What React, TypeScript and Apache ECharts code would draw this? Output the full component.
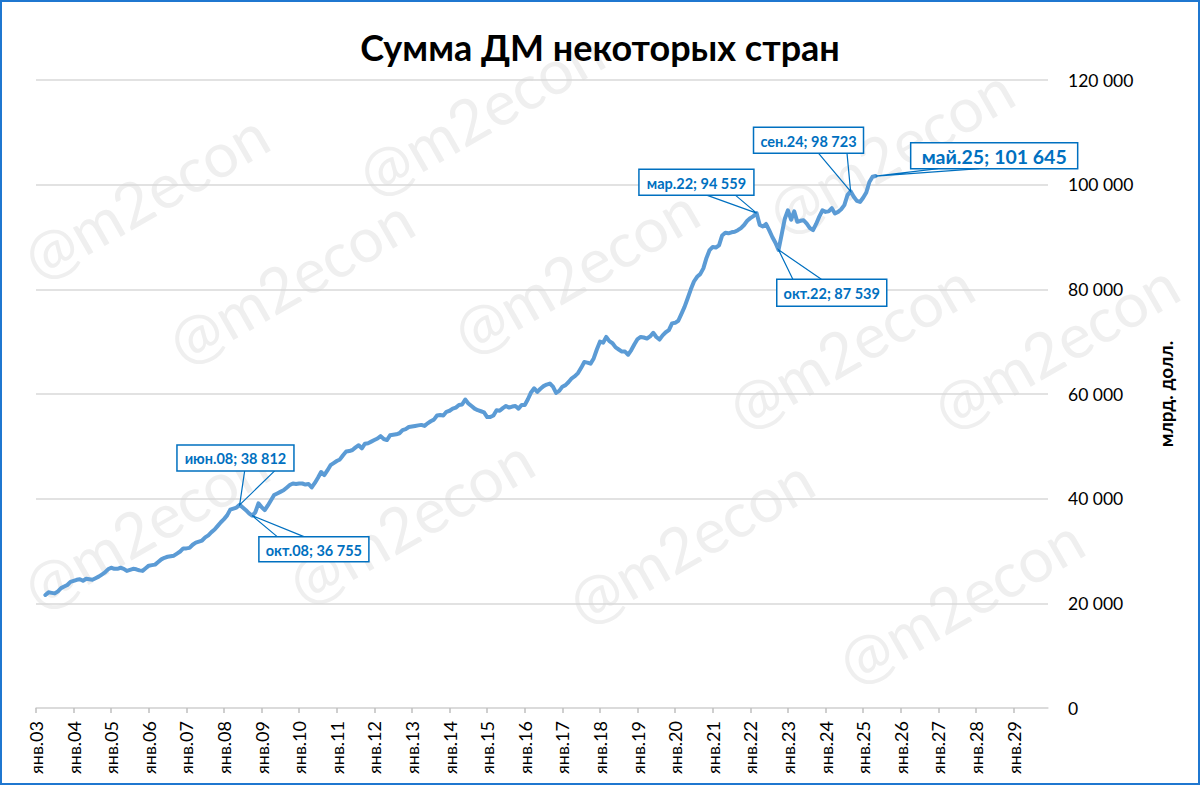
import React, { useEffect, useRef } from "react";
import * as echarts from "echarts";

// Months (Russian short names) used for category labels
const monthNames = ["янв", "фев", "мар", "апр", "май", "июн", "июл", "авг", "сен", "окт", "ноя", "дек"];
const firstYear = 2003;
const lastYear = 2029;

// Sum of monetary base, bn USD, monthly from апр.03 to май.25
const values: number[] = [
  // 2003 (from апр)
  21600, 22100, 22000, 21900, 22300, 22900, 23200, 23500, 24100,
  // 2004
  24300, 24500, 24600, 24300, 24700, 24600, 24500, 24800, 25100, 25500, 25900, 26500,
  // 2005
  26800, 26600, 26600, 26800, 26600, 26200, 26400, 26600, 26500, 26300, 26200, 26700,
  // 2006
  27200, 27300, 27400, 27900, 28400, 28700, 28900, 29000, 29100, 29500, 29900, 30500,
  // 2007
  30500, 30600, 31200, 31600, 31800, 32000, 32600, 33000, 33600, 34100, 34800, 35500,
  // 2008
  36100, 36800, 37900, 38100, 38300, 38812, 38300, 37800, 37200, 36755, 37400, 39100,
  // 2009
  38400, 37800, 38700, 39700, 40700, 41000, 41300, 41600, 42100, 42600, 42900, 42800,
  // 2010
  42900, 42900, 42700, 42800, 42150, 43000, 44000, 45100, 44500, 45400, 46400, 46800,
  // 2011
  47200, 47500, 48300, 49000, 49100, 49300, 49800, 50200, 49600, 50500, 50600, 50900,
  // 2012
  51200, 51500, 51950, 51400, 51200, 52100, 52200, 52300, 52500, 53100, 53300, 53700,
  // 2013
  53800, 53900, 54000, 54100, 53900, 54400, 54800, 55100, 55900, 56000, 55900, 56600,
  // 2014
  56800, 57200, 57400, 57900, 58000, 58950, 58200, 57700, 57200, 56900, 56700, 56500,
  // 2015
  55600, 55600, 55900, 56900, 56800, 57300, 57700, 57400, 57600, 57700, 57200, 57900,
  // 2016
  57900, 59000, 60300, 61100, 60400, 61000, 61500, 61800, 62000, 61400, 60200, 60600,
  // 2017
  61400, 61700, 62300, 63000, 63400, 64000, 65000, 66100, 66000, 65800, 66800, 68500,
  // 2018
  70000, 69800, 70900, 70100, 69700, 68900, 68500, 68100, 68100, 67500, 68400, 69500,
  // 2019
  70500, 70900, 70800, 70600, 71000, 71700, 70900, 70400, 71200, 71800, 72200, 73500,
  // 2020
  73600, 74000, 75300, 76650, 78300, 80000, 81500, 82400, 82900, 84000, 86000, 87500,
  // 2021
  88100, 88000, 88400, 90300, 90800, 90700, 90900, 91000, 91300, 91700, 92300, 93100,
  // 2022
  93600, 94000, 94559, 92300, 92000, 92500, 91300, 90000, 88900, 87539, 90500, 93500,
  // 2023
  95100, 93300, 94900, 92900, 93100, 93200, 92550, 91700, 91300, 92500, 93900, 95100,
  // 2024
  94800, 94900, 95500, 94500, 94800, 95300, 96100, 98000, 98723, 97700, 96900, 96700,
  // 2025 (to май)
  97500, 98500, 100500, 101500, 101645,
];
const firstDataMonth = "апр.03";

const yTicks = [0, 20000, 40000, 60000, 80000, 100000, 120000];

// Annotated points (month labels)
const calloutMonths = ["июн.08", "окт.08", "мар.22", "окт.22", "сен.24", "май.25"];

const FONT = "Lato, 'Open Sans', 'Noto Sans', sans-serif";
const BLUE = "#0070C0";

function buildCategories(): string[] {
  const out: string[] = [];
  for (let y = firstYear; y <= lastYear; y++) {
    for (let m = 0; m < 12; m++) {
      out.push(monthNames[m] + "." + String(y % 100).padStart(2, "0"));
    }
  }
  return out;
}

function fmt(v: number): string {
  return String(v).replace(/\B(?=(\d{3})+(?!\d))/g, " ");
}

// layout of each callout relative to its point: box offset/size, wedge base offsets, edge, font size
const calloutLayout = [
  { dx: -62.7, dy: -60, w: 117, h: 26, b1: 5, b2: 35, edge: "bottom", fs: 14.5 },
  { dx: 6.7, dy: 21, w: 110, h: 25, b1: 25, b2: 51.7, edge: "top", fs: 14.5 },
  { dx: -117.7, dy: -44, w: 115, h: 26, b1: -50, b2: -21.3, edge: "bottom", fs: 14.5 },
  { dx: -1.8, dy: 29.3, w: 110, h: 27, b1: 14.3, b2: 42.8, edge: "top", fs: 14.5 },
  { dx: -97.1, dy: -64, w: 110, h: 26, b1: -32, b2: -3.6, edge: "bottom", fs: 14.5 },
  { dx: 35, dy: -33.4, w: 167, h: 26, b1: 62.5, b2: 103.6, edge: "bottom", fs: 19.5 },
];

const watermarkCenters = [
  [480, 112], [145, 195], [290, 280], [575, 270], [890, 150], [1055, 345],
  [850, 345], [145, 525], [410, 520], [690, 540], [960, 600],
];

export default function App() {
  const ref = useRef<HTMLDivElement>(null);

  useEffect(() => {
    if (!ref.current) return;
    const chart = echarts.init(ref.current, undefined, { renderer: "svg" });
    const categories = buildCategories();
    const startIdx = categories.indexOf(firstDataMonth);
    const seriesData: (number | null)[] = categories.map((_, i) => {
      const k = i - startIdx;
      return k >= 0 && k < values.length ? values[k] : null;
    });
    const yearTick = (index: number) => index % 12 === 0;

    chart.setOption({
      animation: false,
      backgroundColor: "#ffffff",
      title: {
        text: "Сумма ДМ некоторых стран",
        left: "center",
        top: 24,
        z: 4,
        textStyle: { fontFamily: FONT, fontSize: 36, fontWeight: "bold", color: "#000" },
      },
      grid: { left: 36, right: 152, top: 80, bottom: 77, containLabel: false },
      xAxis: {
        type: "category",
        data: categories,
        boundaryGap: false,
        z: 3,
        axisLine: { show: true, lineStyle: { color: "#d9d9d9", width: 1.5 } },
        axisTick: { show: true, interval: yearTick, length: 5, lineStyle: { color: "#bfbfbf", width: 1.5 } },
        axisLabel: {
          interval: yearTick,
          rotate: 90,
          margin: 13,
          fontFamily: FONT,
          fontSize: 18,
          color: "#000",
        },
        splitLine: { show: false },
      },
      yAxis: {
        type: "value",
        position: "right",
        z: 3,
        min: yTicks[0],
        max: yTicks[yTicks.length - 1],
        interval: yTicks[1] - yTicks[0],
        axisLine: { show: false },
        axisTick: { show: false },
        axisLabel: {
          margin: 20,
          fontFamily: FONT,
          fontSize: 17.5,
          color: "#000",
          formatter: (v: number) => fmt(v),
        },
        splitLine: { show: true, lineStyle: { color: "#d9d9d9", width: 1.5 } },
        name: "млрд. долл.",
        nameLocation: "middle",
        nameRotate: 90,
        nameGap: 108,
        nameTextStyle: { fontFamily: FONT, fontSize: 19, fontWeight: "bold", color: "#000" },
      },
      series: [
        {
          type: "line",
          data: seriesData,
          showSymbol: false,
          symbol: "none",
          connectNulls: false,
          lineStyle: { color: "#5B9BD5", width: 4, cap: "round", join: "round" },
          z: 5,
        },
      ],
    });

    const graphics: any[] = [];
    watermarkCenters.forEach(([x, y]) => {
      graphics.push({
        type: "text",
        x,
        y,
        rotation: 0.52,
        z: 0,
        silent: true,
        style: {
          text: "@m2econ",
          fontFamily: FONT,
          fontSize: 62,
          fill: "#efefef",
          align: "center",
          verticalAlign: "middle",
        },
      });
    });

    calloutMonths.forEach((m, k) => {
      const idx = categories.indexOf(m);
      const v = seriesData[idx] as number;
      const p = chart.convertToPixel({ xAxisIndex: 0, yAxisIndex: 0 }, [idx, v]) as number[];
      const L = calloutLayout[k];
      const bx = p[0] + L.dx;
      const by = p[1] + L.dy;
      const edgeY = L.edge === "bottom" ? by + L.h : by;
      graphics.push({
        type: "polyline",
        z: 20,
        shape: { points: [[p[0] + L.b1, edgeY], [p[0], p[1]], [p[0] + L.b2, edgeY]] },
        style: { stroke: BLUE, lineWidth: 1.2, fill: "none" },
      });
      graphics.push({
        type: "rect",
        z: 21,
        shape: { x: bx, y: by, width: L.w, height: L.h },
        style: { fill: "#ffffff", stroke: BLUE, lineWidth: 1.5 },
      });
      graphics.push({
        type: "text",
        z: 22,
        x: bx + L.w / 2,
        y: by + L.h / 2 + 1,
        style: {
          text: m + "; " + fmt(v),
          fontFamily: FONT,
          fontSize: L.fs,
          fontWeight: "bold",
          fill: BLUE,
          align: "center",
          verticalAlign: "middle",
        },
      });
    });

    graphics.push({
      type: "rect",
      z: 30,
      silent: true,
      shape: { x: 1, y: 1, width: 1198, height: 783 },
      style: { fill: "none", stroke: "#1F77D0", lineWidth: 2 },
    });

    chart.setOption({ graphic: graphics });

    return () => chart.dispose();
  }, []);

  return (
    <div
      ref={ref}
      style={{ position: "absolute", left: 0, top: 0, width: 1200, height: 785 }}
    />
  );
}
